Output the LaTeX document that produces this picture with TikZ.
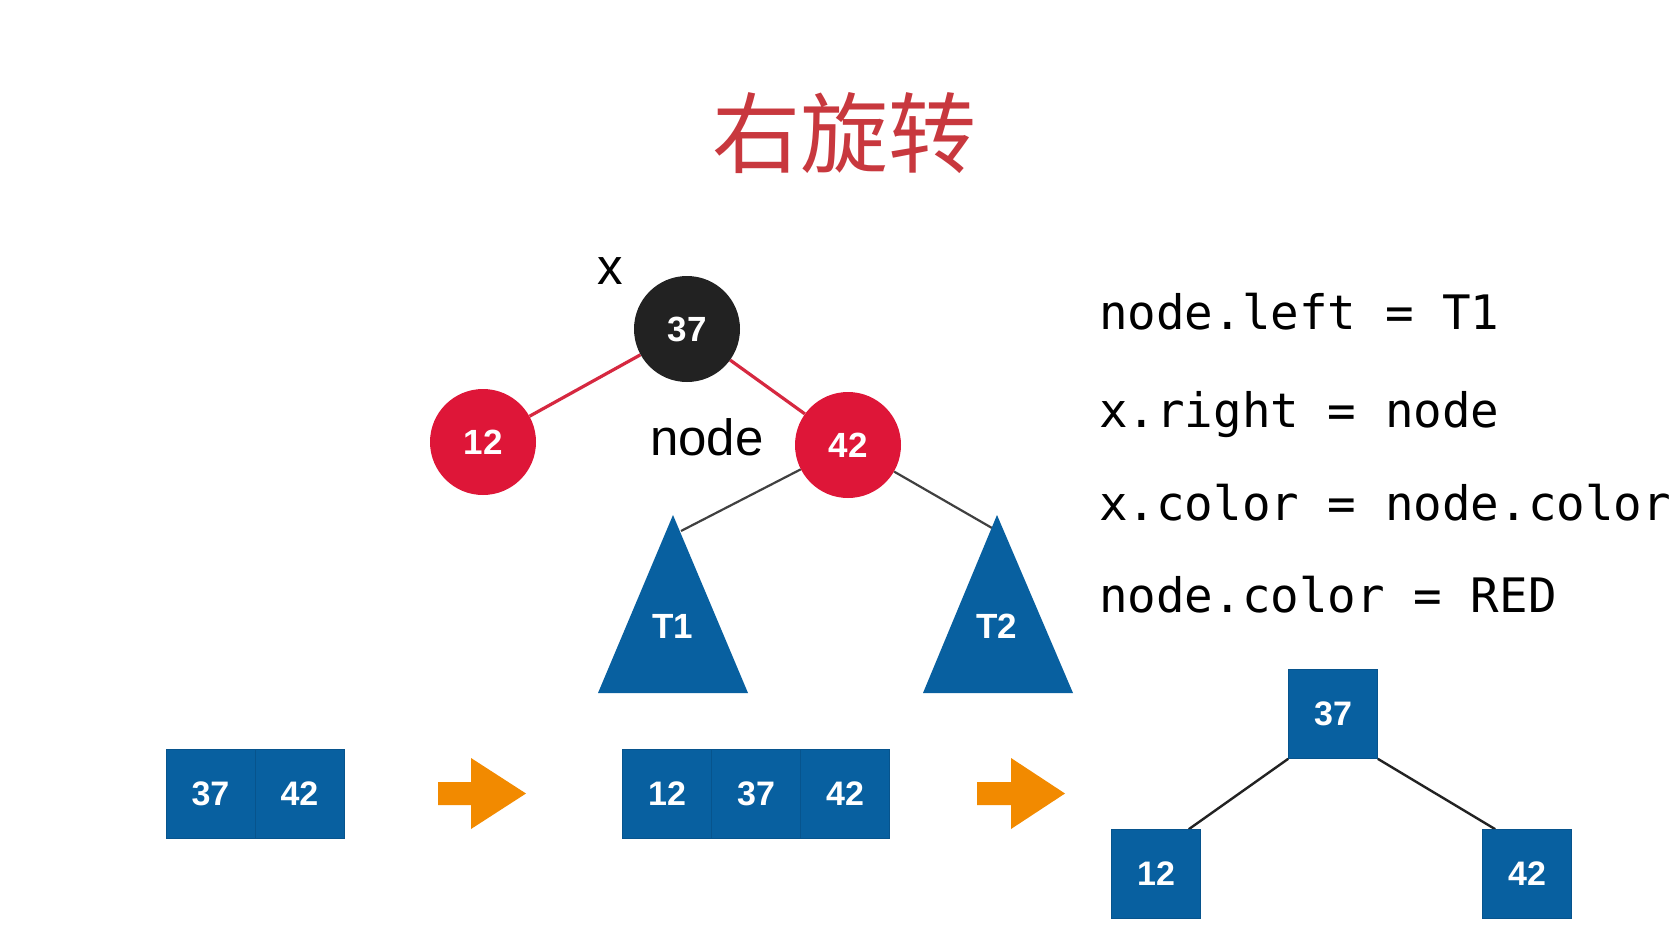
\documentclass[tikz,border=0pt]{standalone}
\usepackage{fontspec}
\usetikzlibrary{backgrounds}
\newfontfamily\cjk{Noto Sans CJK SC}
\newfontfamily\lsans{Liberation Sans}
\newfontfamily\monof{DejaVu Sans Mono}
\definecolor{tblue}{RGB}{8,96,160}
\definecolor{tred}{RGB}{222,22,56}
\definecolor{tblack}{RGB}{34,34,34}
\definecolor{tedge}{RGB}{214,40,64}
\definecolor{tgray}{RGB}{64,64,64}
\definecolor{torange}{RGB}{242,138,0}
\definecolor{ttitle}{RGB}{200,56,62}
\tikzset{
  rbnode/.style={circle, minimum size=106pt, inner sep=0pt, text=white,
    font=\lsans\bfseries\fontsize{35}{40}\selectfont},
  rednode/.style={rbnode, fill=tred},
  blacknode/.style={rbnode, fill=tblack},
  redlink/.style={draw=tedge, line width=3.2pt},
  graylink/.style={draw=tgray, line width=2.2pt},
  darklink/.style={draw=tblack, line width=2.4pt},
  sq/.style={rectangle, minimum size=89pt, inner sep=0pt, fill=tblue,
    draw=tblue!88!black, line width=0.6pt, text=white,
    font=\lsans\bfseries\fontsize{34}{40}\selectfont},
  tri/.style={fill=tblue},
  trilabel/.style={text=white, inner sep=0pt, font=\lsans\bfseries\fontsize{35}{40}\selectfont},
  codeline/.style={anchor=base west, inner sep=0pt, font=\monof\fontsize{47.5}{56}\selectfont},
  plainlabel/.style={anchor=base, inner sep=0pt, font=\lsans\fontsize{51}{60}\selectfont},
  orangearrow/.style={fill=torange}
}
\begin{document}
\begin{tikzpicture}[x=1pt,y=-1pt]
\useasboundingbox (0,0) rectangle (1673,929);

% title
\node[text=ttitle, inner sep=0pt, font=\cjk\fontsize{88}{100}\selectfont] (title) at (844,133) {右旋转};

% red-black tree
\coordinate (t1c) at (681,531);
\coordinate (t2c) at (992,528);
\node[blacknode] (n37) at (687,329) {37};
\node[rednode] (n12) at (483,442) {12};
\node[rednode] (n42) at (848,445) {42};

\node[plainlabel] (xlab) at (610,284) {x};
\node[plainlabel] (nodelab) at (707,455) {node};

% subtrees
\fill[tri] (673,515) -- (748,693) -- (598,693) -- cycle;
\fill[tri] (997,515) -- (1073,693) -- (923,693) -- cycle;
\node[trilabel] (T1) at (673,626) {T1};
\node[trilabel] (T2) at (997,626) {T2};

% code
\node[codeline] (c1) at (1099,329) {node.left = T1};
\node[codeline] (c2) at (1099,427) {x.right = node};
\node[codeline] (c3) at (1099,520) {x.color = node.color};
\node[codeline] (c4) at (1099,612) {node.color = RED};

% bottom row: arrays
\node[sq] (a37) at (210.5,794) {37};
\node[sq] (a42) at (299.5,794) {42};
\fill[orangearrow] (438,782) -- (471,782) -- (471,758) -- (526,793.5) -- (471,829) -- (471,805) -- (438,805) -- cycle;
\node[sq] (b12) at (667,794) {12};
\node[sq] (b37) at (756,794) {37};
\node[sq] (b42) at (845,794) {42};
\fill[orangearrow] (977,782) -- (1011,782) -- (1011,758) -- (1065,793.5) -- (1011,829) -- (1011,805) -- (977,805) -- cycle;

% resulting tree
\node[sq] (r37) at (1333,714) {37};
\node[sq] (r12) at (1156,874) {12};
\node[sq] (r42) at (1527,874) {42};

\begin{scope}[on background layer]
\fill[white] (0,0) rectangle (1673,929);
\path[redlink] (n37) -- (n12);
\path[redlink] (n37) -- (n42);
\path[graylink] (n42) -- (t1c);
\path[graylink] (n42) -- (t2c);
\path[darklink] (r37.south west) -- ([xshift=-12pt]r12.north east);
\path[darklink] (r37.south east) -- ([xshift=13pt]r42.north west);
\end{scope}
\end{tikzpicture}
\end{document}
